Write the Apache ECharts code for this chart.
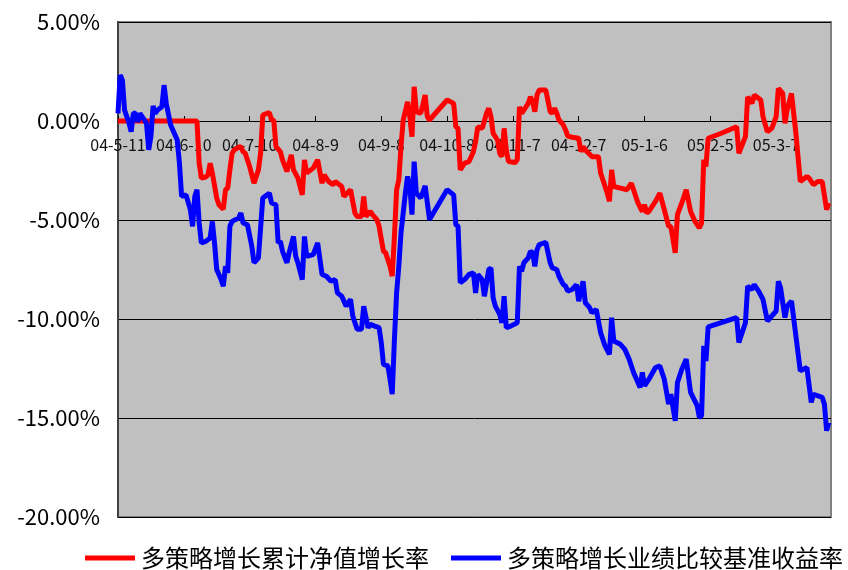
<!DOCTYPE html>
<html>
<head>
<meta charset="utf-8">
<script src="https://cdn.jsdelivr.net/npm/echarts@6/dist/echarts.min.js"></script>
<style>
html,body{margin:0;padding:0;background:#fff;}
#chart{width:848px;height:570px;}
</style>
</head>
<body>
<div id="chart"></div>
<script>
// Start date of the series (day 0)
const startDate = [2004, 5, 11];
const seriesNames = ['多策略增长累计净值增长率', '多策略增长业绩比较基准收益率'];

// Red series: days since start date, cumulative NAV growth (%)
const redDays = [0,36,37,38,40,41,42,43,45,46,48,49,50,51,52,53,55,56,57,58,60,62,64,65,66,68,69,70,71,72,74,75,77,78,79,80,82,84,85,86,89,91,93,94,96,98,99,102,103,106,108,109,111,112,113,115,116,118,119,121,122,124,125,126,127,128,129,130,132,133,134,135,136,138,140,141,142,150,153,154,155,156,158,160,162,163,164,166,168,169,170,171,173,174,175,176,177,178,181,182,183,184,185,187,188,189,190,191,192,195,197,198,199,200,201,203,204,205,207,210,211,212,213,215,216,219,220,223,224,225,226,229,232,234,235,237,239,240,241,242,245,247,249,251,252,254,255,257,259,261,263,265,266,267,268,269,275,282,283,286,287,289,290,293,294,296,298,300,301,303,304,305,307,309,311,314,315,317,319,321,323,324];
const redValues = [0.00,0.00,-2.13,-2.88,-2.83,-2.72,-2.13,-2.63,-3.89,-4.23,-4.45,-3.47,-3.39,-2.47,-1.63,-1.46,-1.32,-1.29,-1.55,-1.63,-2.30,-3.14,-2.47,-1.63,0.30,0.39,0.42,0.05,0.05,-1.29,-1.55,-1.96,-2.55,-2.13,-1.71,-2.47,-2.88,-3.73,-1.96,-2.63,-2.38,-1.96,-3.14,-2.72,-3.06,-3.22,-3.06,-3.31,-3.81,-3.47,-4.65,-4.82,-4.82,-3.81,-4.82,-4.57,-4.73,-4.98,-5.32,-6.58,-6.66,-7.34,-7.84,-5.83,-3.47,-2.97,-1.29,0.05,0.97,0.22,-0.79,1.73,0.47,0.39,1.31,0.22,0.05,1.06,0.89,-0.29,-0.37,-2.47,-2.13,-2.05,-1.55,-1.04,-0.29,-0.37,0.39,0.64,0.22,-0.62,-0.96,-1.63,-1.80,-0.37,-1.46,-2.05,-2.10,-1.96,0.72,0.39,0.55,0.89,1.22,0.97,0.47,1.31,1.56,1.56,0.47,0.39,0.64,0.39,0.05,-0.20,-0.45,-0.76,-0.82,-0.87,-1.55,-1.29,-1.46,-1.68,-1.80,-1.80,-2.63,-3.64,-4.06,-2.47,-3.31,-3.39,-3.47,-3.14,-3.47,-4.14,-4.57,-4.23,-4.65,-4.57,-4.06,-3.64,-4.48,-5.32,-5.32,-6.66,-4.73,-4.14,-3.47,-4.57,-5.07,-5.40,-5.15,-1.96,-2.30,-0.87,-0.62,-0.29,-1.63,-0.79,1.22,0.89,1.31,1.06,0.22,-0.54,-0.37,0.22,1.65,1.39,-0.12,0.55,1.39,-0.62,-3.06,-2.80,-2.88,-3.22,-3.06,-3.06,-4.48,-4.14];

// Blue series: days since start date, benchmark return (%)
const blueDays = [0,1,2,3,5,6,7,8,9,10,11,13,14,15,16,17,18,20,21,22,24,25,27,28,29,31,33,34,35,36,37,38,40,42,43,44,45,47,48,49,50,51,52,55,56,57,59,61,62,64,66,68,69,70,72,73,74,75,77,78,80,81,82,84,85,86,89,91,93,95,97,99,100,102,104,106,107,109,111,112,114,115,117,119,120,121,123,124,125,126,127,128,129,131,132,133,134,135,136,138,140,142,150,153,154,155,156,158,160,162,163,164,166,167,169,170,171,172,174,175,176,177,179,182,183,184,185,187,188,189,190,191,192,195,197,198,200,201,203,204,205,207,209,210,212,213,215,216,218,220,222,224,225,226,229,231,233,235,238,239,240,242,245,247,249,251,252,254,255,257,259,261,264,265,266,267,268,269,282,283,286,287,289,290,292,294,296,298,300,301,302,304,305,307,309,311,314,316,317,321,322,323,324];
const blueValues = [0.39,2.32,2.06,0.55,-0.10,-0.54,0.39,0.39,-0.04,0.39,0.22,-0.12,-1.46,-0.79,0.76,0.39,0.55,0.72,1.81,0.89,-0.20,-0.45,-0.96,-2.13,-3.81,-3.73,-4.48,-5.32,-3.81,-3.47,-5.15,-6.16,-6.08,-5.91,-5.07,-6.16,-7.50,-8.01,-8.34,-7.34,-7.67,-5.32,-5.07,-4.90,-4.65,-5.15,-5.24,-6.33,-7.16,-6.91,-3.89,-3.73,-3.64,-4.14,-4.23,-6.16,-6.08,-6.58,-7.16,-6.66,-5.83,-6.83,-7.16,-8.01,-5.83,-6.83,-6.75,-6.16,-7.75,-7.84,-8.09,-8.01,-8.68,-8.85,-9.35,-9.01,-9.85,-10.52,-10.52,-9.35,-10.44,-10.27,-10.36,-10.44,-11.19,-12.29,-12.37,-13.04,-13.80,-11.03,-8.68,-7.34,-5.65,-3.64,-2.80,-3.31,-4.73,-2.05,-3.64,-3.89,-3.27,-4.98,-3.47,-3.73,-5.24,-5.32,-8.17,-8.01,-7.75,-7.67,-8.68,-7.75,-8.01,-8.85,-7.50,-7.42,-8.93,-9.35,-9.77,-10.19,-8.85,-10.44,-10.36,-10.19,-7.34,-7.59,-7.16,-6.91,-6.58,-6.66,-7.34,-6.50,-6.24,-6.13,-7.16,-7.42,-7.50,-7.84,-8.26,-8.34,-8.59,-8.51,-8.26,-9.10,-8.09,-9.18,-9.43,-9.68,-9.52,-10.69,-11.36,-11.78,-9.93,-11.11,-11.28,-11.53,-12.03,-12.70,-13.46,-12.70,-13.38,-13.04,-12.45,-12.37,-13.04,-14.30,-13.80,-15.14,-13.21,-12.54,-12.03,-13.71,-14.38,-14.97,-14.89,-11.36,-12.12,-10.40,-9.93,-11.19,-10.19,-8.34,-8.51,-8.26,-8.59,-9.01,-10.10,-9.85,-9.60,-8.09,-8.42,-9.93,-9.35,-9.10,-10.86,-12.62,-12.45,-14.21,-13.80,-13.96,-14.30,-15.64,-15.22];

const startMs = Date.UTC(startDate[0], startDate[1] - 1, startDate[2]);
function dayLabel(v) {
  if (v % 30 !== 0) return '';
  const d = new Date(startMs + v * 86400000);
  return String(d.getUTCFullYear()).slice(2) + '-' + (d.getUTCMonth() + 1) + '-' + d.getUTCDate();
}
function pairs(xs, ys) { return xs.map((x, i) => [x, ys[i]]); }

const FONT = '"Noto Sans CJK SC", "Noto Sans", sans-serif';
const GRID_TOP = 22, GRID_H = 495, Y_MIN = -20, Y_MAX = 5;
// pixel distance from the grid bottom up to the zero line (axis crosses at 0)
const zeroOffset = GRID_H * (0 - Y_MIN) / (Y_MAX - Y_MIN);

const chart = echarts.init(document.getElementById('chart'), null, {renderer: 'canvas'});
chart.setOption({
  animation: false,
  backgroundColor: '#ffffff',
  grid: {
    left: 118, top: GRID_TOP, width: 713, height: GRID_H,
    show: true, backgroundColor: '#c0c0c0', borderColor: '#808080', borderWidth: 2
  },
  xAxis: {
    type: 'value', min: 0, max: 325, interval: 30,
    position: 'bottom', offset: -zeroOffset, z: 0,
    axisLine: {show: true, onZero: false, lineStyle: {color: '#000', width: 1}},
    axisTick: {show: true, inside: true, length: 5, lineStyle: {color: '#000'}},
    splitLine: {show: false},
    axisLabel: {
      formatter: dayLabel, color: '#111', fontFamily: FONT, fontSize: 16, margin: 16,
      showMaxLabel: false
    }
  },
  yAxis: {
    type: 'value', min: Y_MIN, max: Y_MAX, interval: 5, z: 0,
    axisLine: {show: true, onZero: false, lineStyle: {color: '#404040', width: 2}},
    axisTick: {show: false},
    splitLine: {show: true, lineStyle: {color: '#000', width: 1}},
    axisLabel: {
      formatter: v => v.toFixed(2) + '%', color: '#000', fontFamily: FONT, fontSize: 22, margin: 18
    }
  },
  legend: {
    left: 80, top: 541, width: 800,
    itemWidth: 50, itemHeight: 5, itemGap: 22,
    icon: 'rect',
    textStyle: {fontFamily: FONT, fontSize: 24, color: '#000', padding: [0, 0, 0, 1]},
    data: seriesNames
  },
  series: [
    {
      name: seriesNames[0], type: 'line', data: pairs(redDays, redValues), z: 10,
      symbol: 'none', color: '#ff0000', lineStyle: {color: '#ff0000', width: 5}
    },
    {
      name: seriesNames[1], type: 'line', data: pairs(blueDays, blueValues), z: 11,
      symbol: 'none', color: '#0000ff', lineStyle: {color: '#0000ff', width: 5}
    }
  ]
});
</script>
</body>
</html>
